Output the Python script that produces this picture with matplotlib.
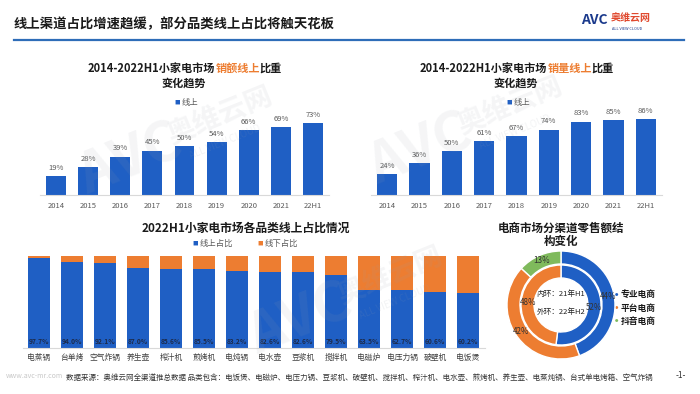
import matplotlib.pyplot as plt

plt.rcParams['font.family'] = ['Noto Sans CJK SC', 'DejaVu Sans']

# data
years = ['2014', '2015', '2016', '2017', '2018', '2019', '2020', '2021', '22H1']
sales_online = [19, 28, 39, 45, 50, 54, 66, 69, 73]
volume_online = [24, 36, 50, 61, 67, 74, 83, 85, 86]

categories = ['电蒸锅', '台单烤', '空气炸锅', '养生壶', '榨汁机', '煎烤机', '电炖锅',
              '电水壶', '豆浆机', '搅拌机', '电磁炉', '电压力锅', '破壁机', '电饭煲']
online_share = [97.7, 94.0, 92.1, 87.0, 85.6, 85.5, 83.2, 82.6, 82.6, 79.5, 63.5, 62.7, 60.6, 60.2]
offline_share = [round(100 - v, 1) for v in online_share]

channels = ['专业电商', '平台电商', '抖音电商']
outer_22h1 = [44, 42, 13]
inner_21h1 = [52, 48]

BLUE = '#1f5fc4'
ORANGE = '#ed7d31'
GREEN = '#7fba5c'
GRAY = '#595959'
W, H = 700, 394


def rect(x0, y0, x1, y1):
    # pixel box -> figure fraction
    return [x0 / W, 1 - y1 / H, (x1 - x0) / W, (y1 - y0) / H]


fig = plt.figure(figsize=(7, 3.94), dpi=100)

# overlay axes in pixel coords for free text
ax0 = fig.add_axes([0, 0, 1, 1])
ax0.set_xlim(0, W)
ax0.set_ylim(H, 0)
ax0.axis('off')

ax0.text(14, 24, '线上渠道占比增速趋缓，部分品类线上占比将触天花板', fontsize=9.6,
         fontweight='bold', color='#1a1a1a', va='center', ha='left')
ax0.plot([14, 684], [40, 40], color='#2e6db8', lw=1.6)
ax0.text(581, 20, 'AVC', fontsize=10, fontweight='heavy', color='#1b3a8c',
         va='center', ha='left', style='italic')
ax0.text(611, 18, '奥维云网', fontsize=7.2, fontweight='bold', color='#e0492e',
         va='center', ha='left')
ax0.text(612, 29, 'ALL VIEW CLOUD', fontsize=2.8, color='#1b3a8c', va='center', ha='left')


def mixed_title(x, y, parts):
    prev = None
    for s, c in parts:
        if prev is None:
            prev = ax0.text(x, y, s, fontsize=8, fontweight='bold', color=c,
                            va='center', ha='left')
        else:
            prev = ax0.annotate(s, xy=(1, 0.5), xycoords=prev, fontsize=8,
                                fontweight='bold', color=c, va='center', ha='left')


mixed_title(88, 68, [('2014-2022H1小家电市场', '#1a1a1a'), ('销额线上', ORANGE), ('比重', '#1a1a1a')])
ax0.text(184, 83, '变化趋势', fontsize=8, fontweight='bold', color='#1a1a1a', ha='center', va='center')
mixed_title(420, 68, [('2014-2022H1小家电市场', '#1a1a1a'), ('销量线上', ORANGE), ('比重', '#1a1a1a')])
ax0.text(516, 83, '变化趋势', fontsize=8, fontweight='bold', color='#1a1a1a', ha='center', va='center')


def legend_item(x, y, label, color):
    ax0.text(x, y, '■', fontsize=4, color=color, va='center', ha='left')
    ax0.text(x + 8, y, label, fontsize=6, color=GRAY, va='center', ha='left')


def top_chart(box, values, ymax, legend_x):
    ax = fig.add_axes(rect(*box))
    x = range(len(years))
    bars = ax.bar(x, values, width=0.62, color=BLUE)
    ax.bar_label(bars, labels=[f'{v}%' for v in values], padding=3, fontsize=5.5, color=GRAY)
    ax.set_xlim(-0.5, len(years) - 0.5)
    ax.set_ylim(0, ymax)
    ax.set_xticks(list(x))
    ax.set_xticklabels(years, fontsize=5.5, color=GRAY)
    ax.tick_params(length=0, pad=5)
    ax.set_yticks([])
    for s in ['top', 'right', 'left']:
        ax.spines[s].set_visible(False)
    ax.spines['bottom'].set_color('#d9d9d9')
    ax.patch.set_alpha(0)
    legend_item(legend_x, 102, '线上', BLUE)
    return ax


top_chart((40, 111, 329, 195), sales_online, 85.2, 174)
top_chart((371, 111, 662, 195), volume_online, 95.0, 506)

# bottom stacked chart
ax0.text(246, 228, '2022H1小家电市场各品类线上占比情况', fontsize=8.5, fontweight='bold',
         color='#1a1a1a', ha='center', va='center')
legend_item(192, 243, '线上占比', BLUE)
legend_item(257, 243, '线下占比', ORANGE)

axb = fig.add_axes(rect(22.5, 256, 484.5, 348))
xc = range(len(categories))
axb.bar(xc, online_share, width=0.64, color=BLUE)
axb.bar(xc, offline_share, width=0.64, bottom=online_share, color=ORANGE)
for i, v in enumerate(online_share):
    axb.text(i, 3, f'{v:.1f}%', ha='center', va='bottom', fontsize=4.8,
             fontweight='bold', color='#1c2a4a')
axb.set_xlim(-0.5, len(categories) - 0.5)
axb.set_ylim(0, 100)
axb.set_xticks(list(xc))
axb.set_xticklabels(categories, fontsize=5.6, color='#404040')
axb.tick_params(length=0, pad=4)
axb.set_yticks([])
for s in ['top', 'right', 'left']:
    axb.spines[s].set_visible(False)
axb.spines['bottom'].set_color('#d9d9d9')
axb.patch.set_alpha(0)

# donut
ax0.text(561, 228, '电商市场分渠道零售额结', fontsize=8.3, fontweight='bold', color='#1a1a1a',
         ha='center', va='center')
ax0.text(561, 241, '构变化', fontsize=8.3, fontweight='bold', color='#1a1a1a',
         ha='center', va='center')

axd = fig.add_axes(rect(501, 245, 621, 365))
colors3 = [BLUE, ORANGE, GREEN]
axd.pie(outer_22h1, radius=54, colors=colors3, startangle=90, counterclock=False,
        wedgeprops=dict(width=13, edgecolor='white', linewidth=1),
        autopct='%d%%', pctdistance=0.89,
        textprops=dict(fontsize=5.8, color='#333333'))
axd.pie(inner_21h1, radius=40, colors=colors3[:2], startangle=90, counterclock=False,
        wedgeprops=dict(width=13, edgecolor='white', linewidth=1),
        autopct='%d%%', pctdistance=0.83,
        textprops=dict(fontsize=5.8, color='#333333'))
axd.set_xlim(-60, 60)
axd.set_ylim(-60, 60)
axd.set_aspect('equal')
axd.axis('off')

ax0.text(561, 294, '内环：21年H1', fontsize=5.5, color='#222222', ha='center', va='center')
ax0.text(561, 312, '外环：22年H2', fontsize=5.5, color='#222222', ha='center', va='center')
for k, (name, c) in enumerate(zip(channels, colors3)):
    y = 295 + k * 13
    ax0.text(617, y, '●', fontsize=2.5, color=c, ha='center', va='center')
    ax0.text(621, y, name, fontsize=6.3, fontweight='bold', color='#1a1a1a', ha='left', va='center')

# footer
ax0.text(6, 376, 'www.avc-mr.com', fontsize=5, color='#c8c8c8', ha='left', va='center')
ax0.text(66, 378, '数据来源：奥维云网全渠道推总数据 品类包含：电饭煲、电磁炉、电压力锅、豆浆机、破壁机、'
         '搅拌机、榨汁机、电水壶、煎烤机、养生壶、电蒸炖锅、台式单电烤箱、空气炸锅',
         fontsize=5.4, color='#333333', ha='left', va='center')
ax0.text(681, 376, '-1-', fontsize=6, color='#333333', ha='center', va='center')

# faint watermarks
axw = fig.add_axes([0, 0, 1, 1])
axw.set_xlim(0, W)
axw.set_ylim(H, 0)
axw.axis('off')
for x, y in [(130, 160), (420, 150), (300, 320)]:
    axw.text(x, y, 'AVC', fontsize=40, fontweight='heavy', color='#9aa3ad', alpha=0.1,
             rotation=22, ha='center', va='center', style='italic')
    axw.text(x + 90, y - 45, '奥维云网', fontsize=20, fontweight='bold', color='#9aa3ad',
             alpha=0.1, rotation=22, ha='center', va='center')
    axw.text(x + 95, y - 18, 'ALL VIEW CLOUD', fontsize=7, color='#9aa3ad', alpha=0.12,
             rotation=22, ha='center', va='center')

fig.savefig('out.png', dpi=100)
